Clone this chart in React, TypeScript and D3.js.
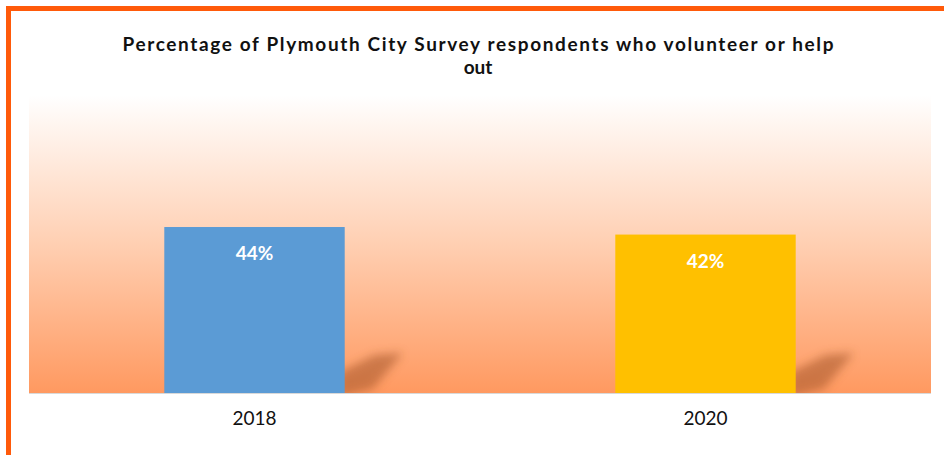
import React from "react";
import * as d3 from "d3";

const categories = ["2018", "2020"];
const values = [0.44, 0.42];
const barColors = ["#5B9BD5", "#FFC000"];
const titleLines = ["Percentage of Plymouth City Survey respondents who volunteer or help", "out"];

const W = 944;
const H = 455;
const plot = { left: 29, right: 931, top: 95, bottom: 393 };
const FONT = "'Lato', 'Open Sans', sans-serif";

export default function App() {
  const x = d3
    .scaleBand<string>()
    .domain(categories)
    .range([plot.left, plot.right])
    .paddingInner(0.6)
    .paddingOuter(0.3);
  const y = d3.scaleLinear().domain([0, 0.79]).range([plot.bottom, plot.top]);
  const fmt = d3.format(".0%");
  const bw = x.bandwidth();

  return (
    <svg width={W} height={H} style={{ position: "absolute", left: 0, top: 0, display: "block" }}>
      <defs>
        <linearGradient id="bg" x1="0" y1="0" x2="0" y2="1">
          <stop offset="0" stopColor="#FFFFFF" />
          <stop offset="0.5" stopColor="#FFCFB2" />
          <stop offset="1" stopColor="#FF9960" />
        </linearGradient>
        <filter id="blur" x="-50%" y="-50%" width="200%" height="200%">
          <feGaussianBlur stdDeviation="5" />
        </filter>
        <clipPath id="plotclip">
          <rect x={plot.left} y={plot.top} width={plot.right - plot.left} height={plot.bottom - plot.top} />
        </clipPath>
      </defs>
      <rect x={0} y={0} width={W} height={H} fill="#FFFFFF" />
      {/* frame */}
      <rect x={8.5} y={8.5} width={W + 20} height={H + 20} fill="none" stroke="#FF5A0A" strokeWidth={5} />
      {/* title */}
      {titleLines.map((t, i) => (
        <text
          key={i}
          x={478}
          y={51 + i * 23}
          textAnchor="middle"
          fontFamily={FONT}
          fontWeight={700}
          fontSize={19}
          fill="#111"
          {...(i === 0 ? { textLength: 711, lengthAdjust: "spacing" } : {})}
        >
          {t}
        </text>
      ))}
      {/* plot background */}
      <rect
        x={plot.left}
        y={plot.top}
        width={plot.right - plot.left}
        height={plot.bottom - plot.top}
        fill="url(#bg)"
      />
      {/* shadows */}
      <g clipPath="url(#plotclip)">
        {categories.map((c) => {
          const xr = (x(c) as number) + bw;
          const b = y(0);
          const pts = [
            [xr - 6, b + 4],
            [xr - 6, b - 20],
            [xr + 30, b - 38],
            [xr + 58, b - 40],
            [xr + 28, b - 4],
          ];
          return (
            <polygon
              key={c}
              points={pts.map((p) => p.join(",")).join(" ")}
              fill="#9A4E24"
              opacity={0.5}
              filter="url(#blur)"
            />
          );
        })}
      </g>
      {/* axis line */}
      <line x1={plot.left} x2={plot.right} y1={plot.bottom + 0.5} y2={plot.bottom + 0.5} stroke="#D9D9D9" strokeWidth={1} />
      {/* bars */}
      {categories.map((c, i) => (
        <rect
          key={c}
          x={x(c)}
          y={y(values[i])}
          width={bw}
          height={y(0) - y(values[i])}
          fill={barColors[i]}
        />
      ))}
      {/* value labels */}
      {categories.map((c, i) => (
        <text
          key={c}
          x={(x(c) as number) + bw / 2}
          y={y(values[i]) + 33}
          textAnchor="middle"
          fontFamily={FONT}
          fontWeight={700}
          fontSize={19}
          fill="#FFFFFF"
        >
          {fmt(values[i])}
        </text>
      ))}
      {/* category labels */}
      {categories.map((c) => (
        <text
          key={c}
          x={(x(c) as number) + bw / 2}
          y={425}
          textAnchor="middle"
          fontFamily={FONT}
          fontSize={19}
          fill="#111"
        >
          {c}
        </text>
      ))}
    </svg>
  );
}
